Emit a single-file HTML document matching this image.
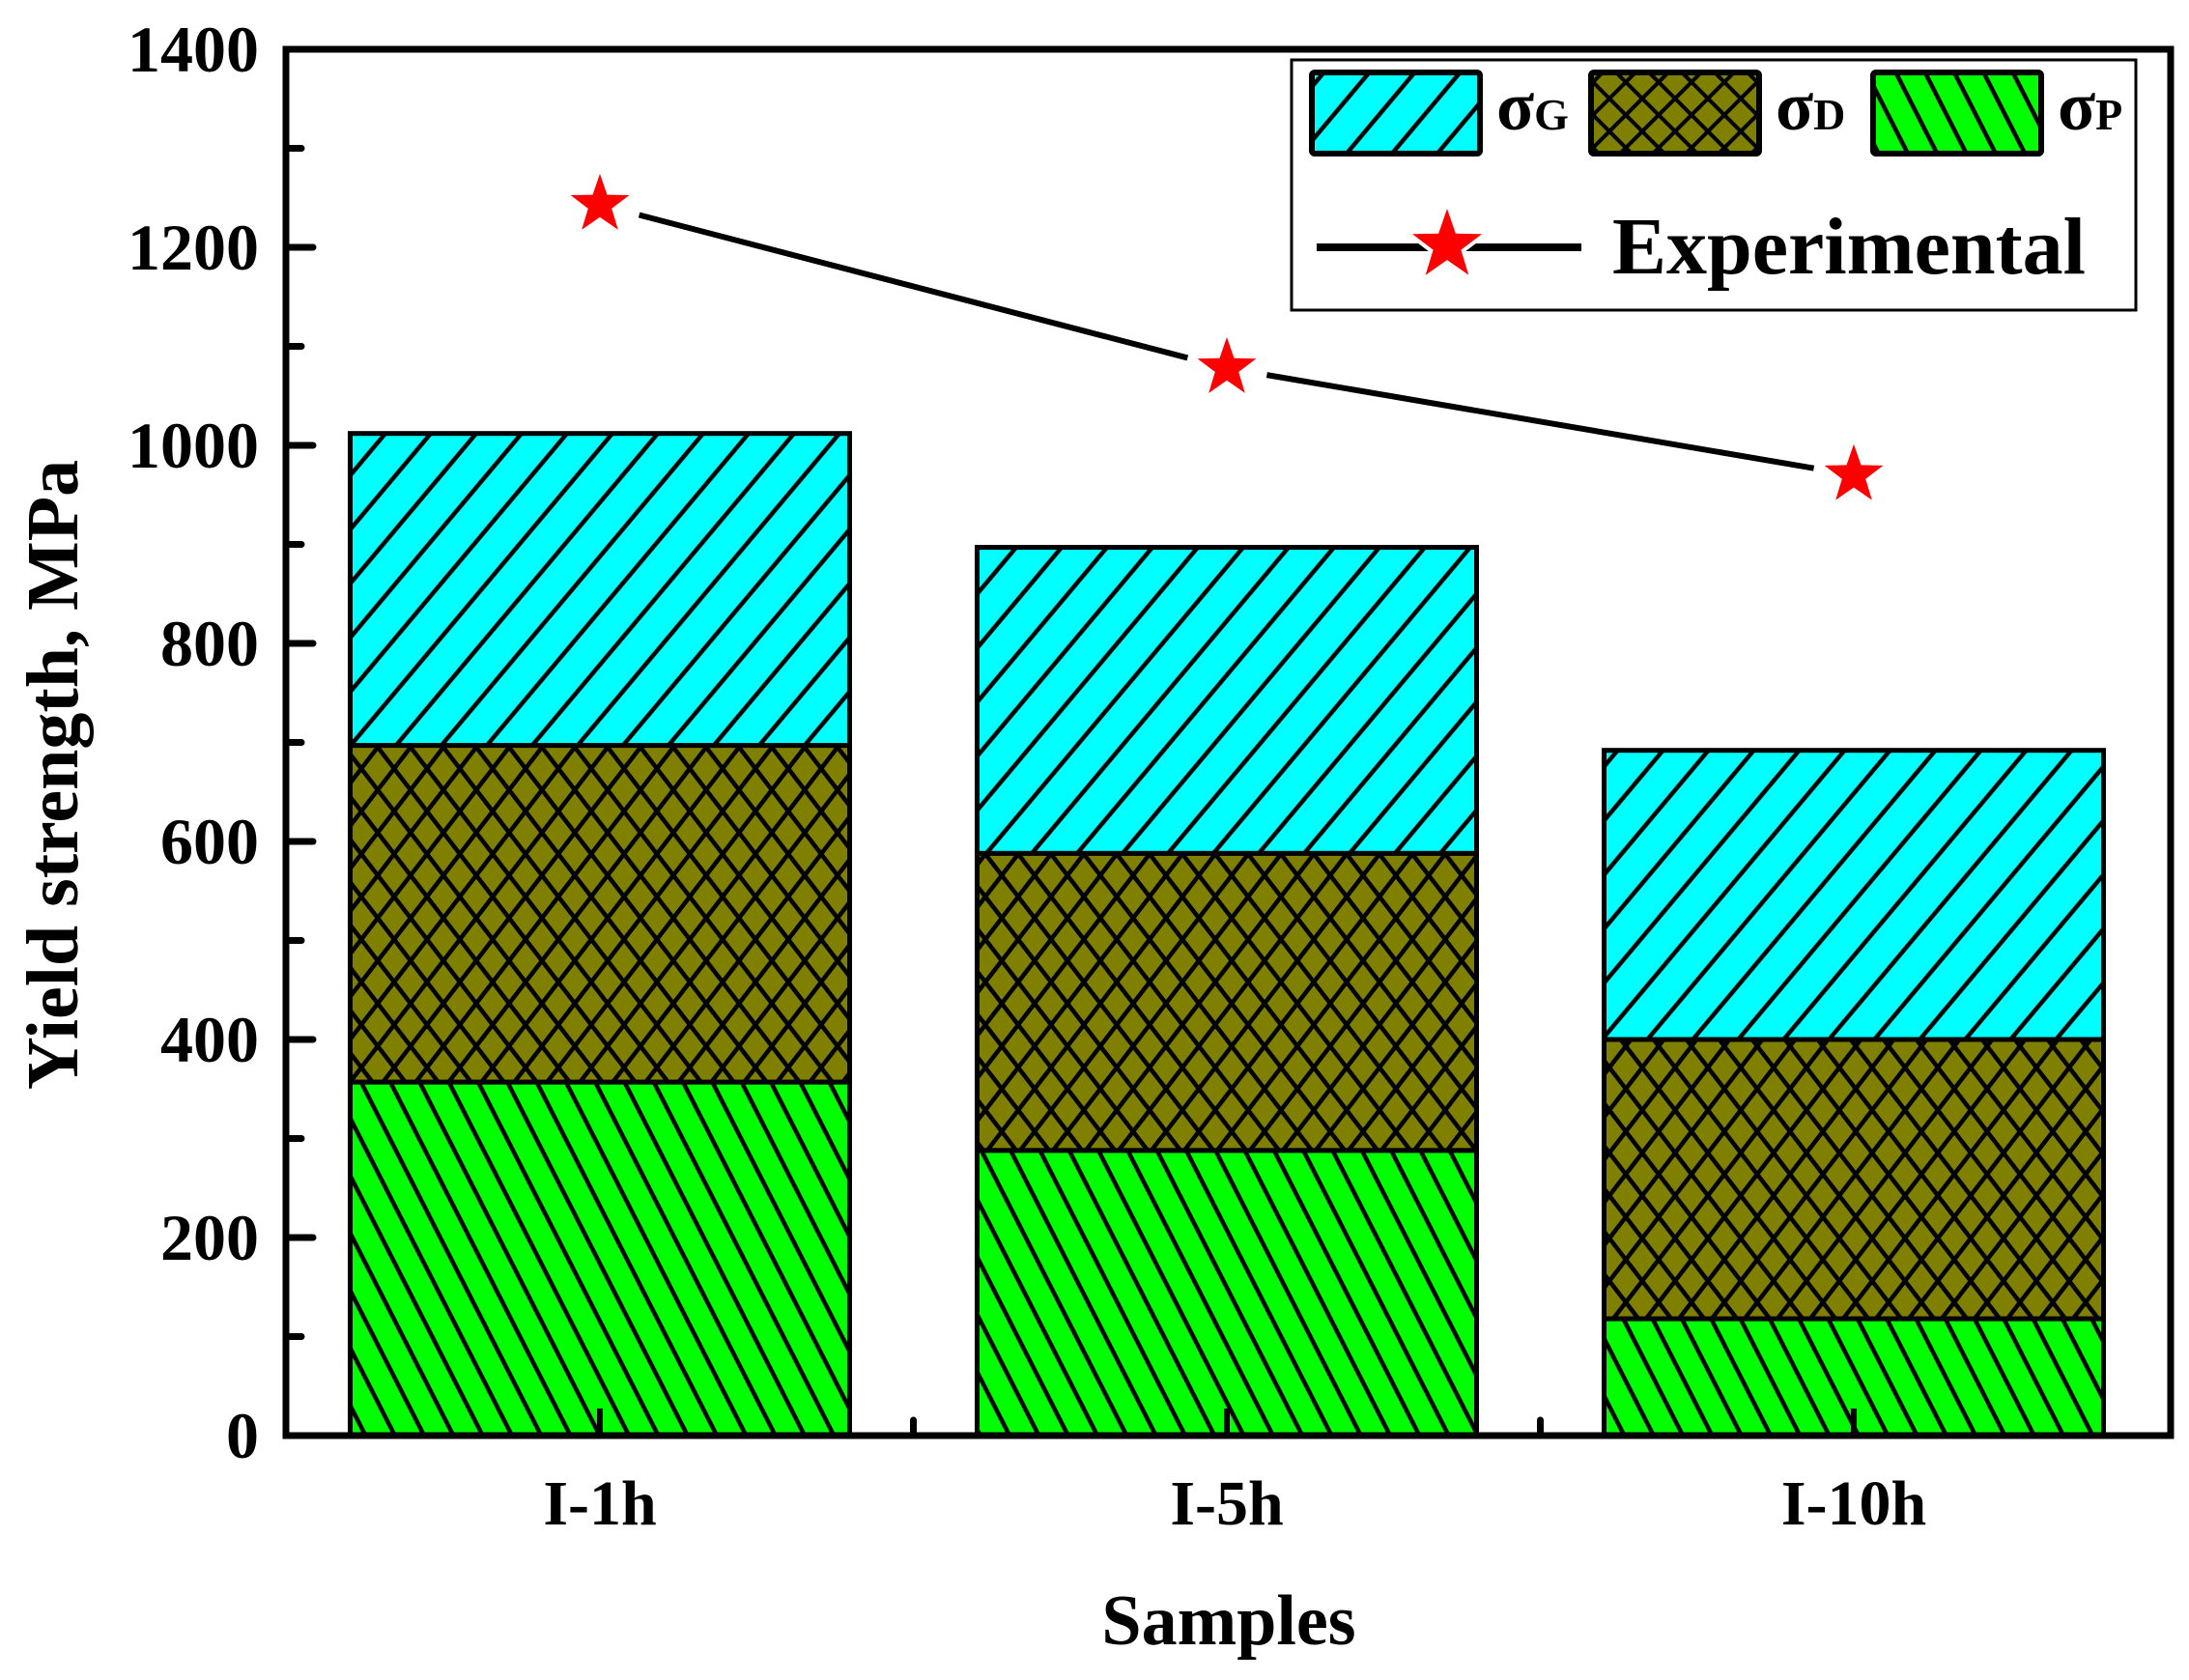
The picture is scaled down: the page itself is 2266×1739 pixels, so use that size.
<!DOCTYPE html>
<html><head><meta charset="utf-8"><style>
html,body{margin:0;padding:0;background:#fff;}
svg text{font-family:"Liberation Serif","Times New Roman",serif;font-weight:bold;}
</style></head><body>
<svg id="chart" width="2266" height="1734" viewBox="0 0 2266 1734" xmlns="http://www.w3.org/2000/svg">
<defs>
<pattern id="hatchG" patternUnits="userSpaceOnUse" width="36" height="36" patternTransform="rotate(40)">
<rect width="36" height="36" fill="#00ffff"/><line x1="18" y1="0" x2="18" y2="36" stroke="#000" stroke-width="4.5"/></pattern>
<pattern id="hatchD" patternUnits="userSpaceOnUse" width="34" height="34">
<rect width="34" height="34" fill="#808000"/>
<path d="M-1,-1 L35,35 M35,-1 L-1,35" stroke="#000" stroke-width="4"/></pattern>
<pattern id="hatchDr" href="#hatchD" patternTransform="scale(1,1.3)"/>
<pattern id="hatchP" patternUnits="userSpaceOnUse" width="27" height="27" patternTransform="rotate(-27)">
<rect width="27" height="27" fill="#00ff00"/><line x1="13.5" y1="0" x2="13.5" y2="27" stroke="#000" stroke-width="4.5"/></pattern>
</defs>
<g id="plot"></g>
</svg>
<script>
const categories = ["I-1h","I-5h","I-10h"];
const sigmaP = [357, 288, 118];
const sigmaD = [340, 300, 282];
const sigmaG = [315, 309, 292];
const experimental = [1243, 1078, 970];
const yTicks = [0,200,400,600,800,1000,1200,1400];

const NS="http://www.w3.org/2000/svg";
const L=296,T=51,R=2247,B=1486;
const yMax=1400;
const y=v=>B-(v/yMax)*(B-T);
const x=i=>621+i*649;
const barW=517;
const g=document.getElementById('plot');
function mk(tag,attrs,parent){const e=document.createElementNS(NS,tag);for(const k in attrs)e.setAttribute(k,attrs[k]);(parent||g).appendChild(e);return e;}

const stacks=[["sigma-p",sigmaP,"url(#hatchP)"],["sigma-d",sigmaD,"url(#hatchDr)"],["sigma-g",sigmaG,"url(#hatchG)"]];
categories.forEach((c,i)=>{
  let base=0;
  stacks.forEach(([nm,arr,fill])=>{
    const v=arr[i];
    const r=mk('rect',{x:x(i)-barW/2,y:y(base+v),width:barW,height:y(base)-y(base+v),fill:fill,stroke:'#000','stroke-width':5});
    
    
    base+=v;
  });
});

const frame=mk('rect',{x:L,y:T,width:R-L,height:B-T,fill:'none',stroke:'#000','stroke-width':7});



for(let v=0;v<=yMax;v+=100){
  const major=v%200===0;
  const t=mk('line',{x1:L,x2:L+(major?28:16),y1:y(v),y2:y(v),stroke:'#000','stroke-width':7,'stroke-linecap':'round'});
  
  
}
yTicks.forEach(v=>{
  const t=mk('text',{x:268,y:y(v)+23,'text-anchor':'end','font-size':68});
  t.textContent=v;
  
  
});
categories.forEach((c,i)=>{
  const t=mk('line',{x1:x(i),x2:x(i),y1:B,y2:B-28,stroke:'#000','stroke-width':6});
  
  
  if(i<categories.length-1){
    const m=mk('line',{x1:x(i)+324.5,x2:x(i)+324.5,y1:B,y2:B-16,stroke:'#000','stroke-width':7,'stroke-linecap':'round'});
    
    
  }
  const l=mk('text',{x:x(i),y:1578,'text-anchor':'middle','font-size':66});
  l.textContent=c;
  
  
});

const xt=mk('text',{x:1272,y:1702,'text-anchor':'middle','font-size':74});
xt.textContent='Samples';


const yt=mk('text',{x:0,y:0,'text-anchor':'middle','font-size':76,transform:'translate(80,802) rotate(-90)'});
yt.textContent='Yield strength, MPa';



function starPath(cx,cy,r){let d='';for(let k=0;k<10;k++){const a=-Math.PI/2+k*Math.PI/5;const rr=k%2?r*0.4:r;d+=(k?'L':'M')+(cx+rr*Math.cos(a)).toFixed(1)+','+(cy+rr*Math.sin(a)).toFixed(1);}return d+'Z';}
for(let i=0;i<experimental.length-1;i++){
  const x1=x(i),y1=y(experimental[i]),x2=x(i+1),y2=y(experimental[i+1]);
  const len=Math.hypot(x2-x1,y2-y1),ux=(x2-x1)/len,uy=(y2-y1)/len,gap=42;
  const s=mk('line',{x1:x1+ux*gap,y1:y1+uy*gap,x2:x2-ux*gap,y2:y2-uy*gap,stroke:'#000','stroke-width':6});
  
  
}
experimental.forEach((v,i)=>{
  const s=mk('path',{d:starPath(x(i),y(v),32),fill:'#ff0000'});
  
  
});

const lg=mk('g',{});


const lb=mk('rect',{x:1337,y:62,width:874,height:259,fill:'#fff',stroke:'#000','stroke-width':3},lg);


const entries=[[1358,"url(#hatchG)","G",1549],[1647,"url(#hatchD)","D",1838],[1939,"url(#hatchP)","P",2130]];
entries.forEach(([sx,fill,sub,tx])=>{
  const r=mk('rect',{x:sx,y:75,width:174,height:84,fill:fill,stroke:'#000','stroke-width':6,rx:3},lg);
  
  
  const t=mk('text',{x:tx,y:134,'font-size':72},lg);
  t.innerHTML='σ<tspan font-size="46">'+sub+'</tspan>';
  
  
});
const ll=mk('line',{x1:1363,x2:1637,y1:256,y2:256,stroke:'#000','stroke-width':8},lg);


const ls=mk('path',{d:starPath(1498,254,44),fill:'#ff0000',stroke:'#fff','stroke-width':4},lg);


const lt=mk('text',{x:1669,y:283,'font-size':84},lg);
lt.textContent='Experimental';


</script>
</body></html>
